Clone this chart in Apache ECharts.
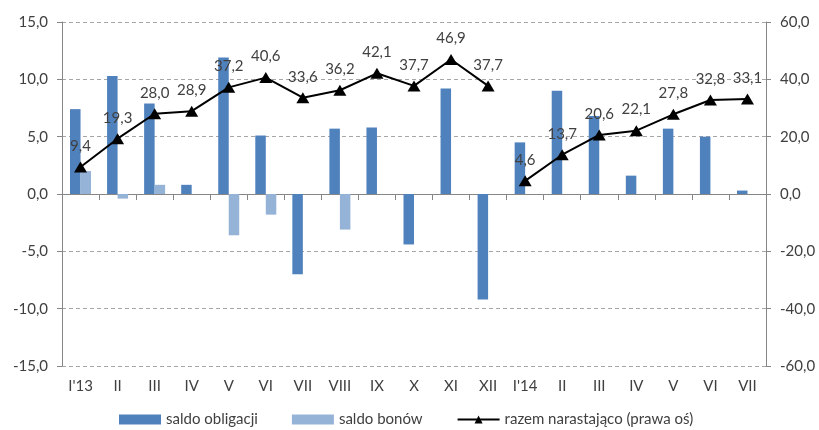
<!DOCTYPE html>
<html>
<head>
<meta charset="utf-8">
<script src="https://cdn.jsdelivr.net/npm/echarts@6/dist/echarts.min.js"></script>
<style>
  html, body { margin: 0; padding: 0; background: #fff; }
  #chart { width: 819px; height: 430px; }
</style>
</head>
<body>
<div id="chart"></div>
<script>
// Months from January 2013 to July 2014
const months = ["I'13", 'II', 'III', 'IV', 'V', 'VI', 'VII', 'VIII', 'IX', 'X', 'XI', 'XII',
                "I'14", 'II', 'III', 'IV', 'V', 'VI', 'VII'];

// Monthly balance of bonds (left axis)
const saldoObligacji = [7.4, 10.3, 7.9, 0.8, 11.9, 5.1, -7.0, 5.7, 5.8, -4.4, 9.2, -9.2,
                        4.5, 9.0, 6.8, 1.6, 5.7, 5.0, 0.3];

// Monthly balance of bills (left axis)
const saldoBonow = [2.0, -0.4, 0.8, null, -3.6, -1.8, null, -3.1, null, null, null, null,
                    null, null, null, null, null, null, null];

// Cumulative total (right axis), reset at the start of each year
const razemNarastajaco = [9.4, 19.3, 28.0, 28.9, 37.2, 40.6, 33.6, 36.2, 42.1, 37.7, 46.9, 37.7,
                          4.6, 13.7, 20.6, 22.1, 27.8, 32.8, 33.1];

// First month of the second year (the cumulative line restarts here)
const yearBreak = 12;

const FONT = 'Lato, "Open Sans", sans-serif';
const TEXT = '#404040';
const AXIS = '#868686';
const FS = 15;
const fmt = v => v.toFixed(1).replace('.', ',');

const LINE_NAME = 'razem narastająco (prawa oś)';

// one line segment per year, so the cumulative line is not joined across the reset
function cumulativeSegment(from, to) {
  return {
    name: LINE_NAME,
    type: 'line',
    xAxisIndex: 0,
    yAxisIndex: 1,
    data: razemNarastajaco.map((v, i) => (i >= from && i < to ? v : null)),
    connectNulls: false,
    symbol: 'triangle',
    symbolSize: [13, 11],
    lineStyle: { color: '#000', width: 2 },
    itemStyle: { color: '#000' },
    label: {
      show: true,
      position: 'top',
      distance: 8,
      formatter: p => fmt(p.value),
      fontFamily: FONT,
      fontSize: FS,
      color: TEXT
    },
    z: 5
  };
}

const chart = echarts.init(document.getElementById('chart'));
chart.setOption({
  animation: false,
  textStyle: { fontFamily: FONT },
  grid: { left: 62, right: 53, top: 22, bottom: 64 },
  legend: {
    top: 412,
    left: 119,
    padding: 0,
    itemWidth: 42,
    itemHeight: 10,
    itemGap: 34,
    textStyle: { fontFamily: FONT, fontSize: FS, color: TEXT },
    data: [
      { name: 'saldo obligacji', icon: 'rect' },
      { name: 'saldo bonów', icon: 'rect' },
      { name: LINE_NAME }
    ]
  },
  xAxis: [
    {
      // zero line with the month separators
      type: 'category',
      data: months,
      position: 'bottom',
      axisLine: { onZero: true, lineStyle: { color: AXIS, width: 1 } },
      axisTick: { show: true, length: 6, alignWithLabel: false, lineStyle: { color: AXIS } },
      axisLabel: { show: false },
      splitLine: { show: false }
    },
    {
      // month names along the bottom edge
      type: 'category',
      data: months,
      position: 'bottom',
      axisLine: { show: false, onZero: false },
      axisTick: { show: false },
      axisLabel: { show: true, fontFamily: FONT, fontSize: FS, color: TEXT, margin: 13, interval: 0 },
      splitLine: { show: false }
    }
  ],
  yAxis: [
    {
      type: 'value',
      min: -15, max: 15, interval: 5,
      axisLine: { show: true, lineStyle: { color: AXIS } },
      axisTick: { show: true, length: 5, lineStyle: { color: AXIS } },
      axisLabel: { formatter: fmt, fontFamily: FONT, fontSize: FS, color: TEXT, margin: 14 },
      splitLine: { show: true, lineStyle: { color: '#a6a6a6', type: [4, 3] } }
    },
    {
      type: 'value',
      min: -60, max: 60, interval: 20,
      position: 'right',
      axisLine: { show: true, lineStyle: { color: AXIS } },
      axisTick: { show: true, length: 5, lineStyle: { color: AXIS } },
      axisLabel: { formatter: fmt, fontFamily: FONT, fontSize: FS, color: TEXT, margin: 14 },
      splitLine: { show: false }
    }
  ],
  series: [
    {
      name: 'saldo obligacji',
      type: 'bar',
      xAxisIndex: 0,
      yAxisIndex: 0,
      data: saldoObligacji,
      barWidth: 10.5,
      barGap: '0%',
      itemStyle: { color: '#4f81bd' }
    },
    {
      name: 'saldo bonów',
      type: 'bar',
      xAxisIndex: 0,
      yAxisIndex: 0,
      data: saldoBonow,
      barWidth: 10.5,
      barGap: '0%',
      itemStyle: { color: '#95b3d7' }
    },
    cumulativeSegment(0, yearBreak),
    cumulativeSegment(yearBreak, months.length)
  ]
});
</script>
</body>
</html>
